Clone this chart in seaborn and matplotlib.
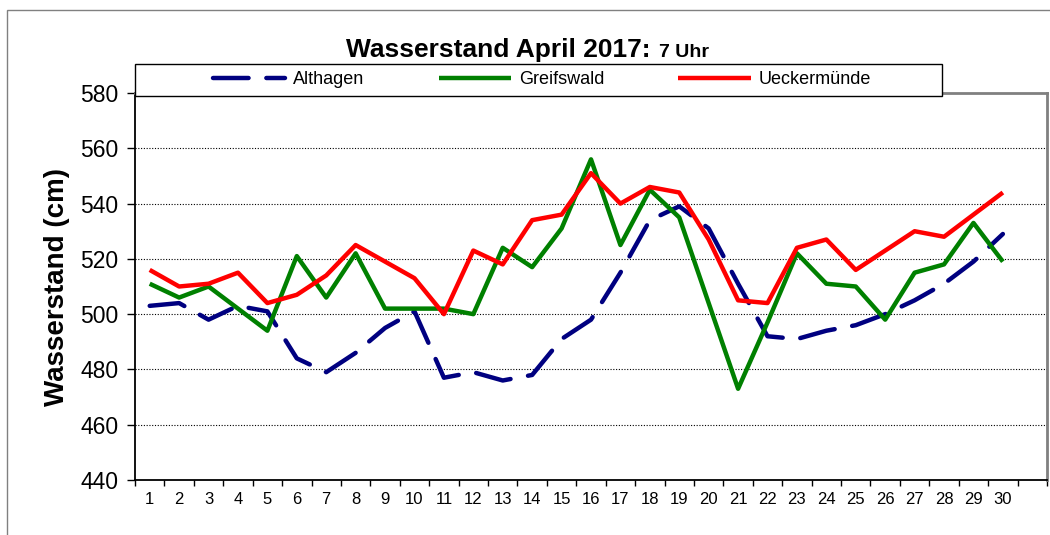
import matplotlib
matplotlib.use('Agg')
import matplotlib.pyplot as plt
import matplotlib.patches as patches
import seaborn as sns
import pandas as pd

# data (Wasserstand in cm, 7 Uhr)
days = list(range(1, 31))
althagen = [503, 504, 498, 503, 501, 484, 479, 486, 495, 501,
            477, 479, 476, 478, 491, 498, 515, 534, 539, 531,
            511, 492, 491, 494, 496, 500, 505, 511, 519, 529]
greifswald = [511, 506, 510, 502, 494, 521, 506, 522, 502, 502,
              502, 500, 524, 517, 531, 556, 525, 545, 535, 504,
              473, 497, 522, 511, 510, 498, 515, 518, 533, 519]
ueckermuende = [516, 510, 511, 515, 504, 507, 514, 525, 519, 513,
                500, 523, 518, 534, 536, 551, 540, 546, 544, 527,
                505, 504, 524, 527, 516, 523, 530, 528, 536, 544]
stations = ['Althagen', 'Greifswald', 'Ueckermünde']
colors = ['#000080', '#008000', '#FF0000']
yticks = [440, 460, 480, 500, 520, 540, 560, 580]

df = pd.DataFrame({'Tag': days * 3,
                   'Wasserstand': althagen + greifswald + ueckermuende,
                   'Station': [s for s in stations for _ in days]})

sns.set_style('white')
plt.rcParams['font.family'] = ['Liberation Sans', 'DejaVu Sans']
for k in ['text.color', 'axes.labelcolor', 'xtick.color', 'ytick.color']:
    plt.rcParams[k] = 'black'

fig = plt.figure(figsize=(10.5, 5.35), dpi=100)
W, H = 1050, 535
ax = fig.add_axes([135 / W, 1 - 480 / H, (1047 - 135) / W, (480 - 93) / H])

# outer chart frame
fig.patches.append(patches.Rectangle((7 / W, -0.1), 1.2, 1.1 - 10 / H,
                                     transform=fig.transFigure, fill=False,
                                     edgecolor='#808080', lw=1.0))

for s, c in zip(stations, colors):
    sns.lineplot(data=df[df['Station'] == s], x='Tag', y='Wasserstand',
                 color=c, lw=3.2, ax=ax, label=s, legend=False,
                 solid_capstyle='butt')
line_a = ax.get_lines()[0]
line_a.set_dashes((8, 4))
line_a.set_dash_capstyle('round')

# axes
ax.set_xlim(0.5, 31.5)
ax.set_ylim(440, 580)
ax.set_yticks(yticks)
ax.set_yticklabels([str(v) for v in yticks], fontsize=16.5)
ax.set_xticks(days)
ax.set_xticklabels([str(d) for d in days], fontsize=12)
ax.set_xticks([d + 0.5 for d in range(0, 32)], minor=True)
ax.tick_params(axis='x', which='major', length=0, pad=9)
ax.tick_params(axis='x', which='minor', length=4, width=1, color='black',
               direction='out', bottom=True)
ax.tick_params(axis='y', length=6, width=1, color='black', direction='out',
               left=True, pad=6)
ax.set_xlabel('')
ax.set_ylabel('')

for v in yticks[1:-1]:
    ax.axhline(v, color='black', lw=0.8, ls=(0, (1, 1.5)), zorder=0)

for sp in ['left', 'bottom']:
    ax.spines[sp].set_color('black')
    ax.spines[sp].set_linewidth(1.3)
for sp in ['top', 'right']:
    ax.spines[sp].set_color('#808080')
    ax.spines[sp].set_linewidth(2.0)

# y label
fig.text(57 / W, 1 - 287 / H, 'Wasserstand (cm)', rotation=90,
         fontsize=20, fontweight='bold', ha='center', va='center')

# title in two sizes
fig.text(651 / W, 1 - 57 / H, 'Wasserstand April 2017:', fontsize=19,
         fontweight='bold', ha='right', va='baseline')
fig.text(659 / W, 1 - 57 / H, '7 Uhr', fontsize=14,
         fontweight='bold', ha='left', va='baseline')

# legend box across the top of the plot area
fig.patches.append(patches.Rectangle((135 / W, 1 - 96 / H), (942 - 135) / W,
                                     32 / H, transform=fig.transFigure,
                                     facecolor='white', edgecolor='black',
                                     lw=1.0, zorder=3))
handles = ax.get_lines()[:3]
leg = fig.legend(handles, stations, loc='center', ncol=3,
                 bbox_to_anchor=(542 / W, 1 - 80 / H),
                 frameon=False, fontsize=13,
                 handlelength=4.0, handletextpad=0.45, columnspacing=4.1,
                 borderaxespad=0, borderpad=0)
leg.set_zorder(10)

fig.savefig('out.png', dpi=100)
